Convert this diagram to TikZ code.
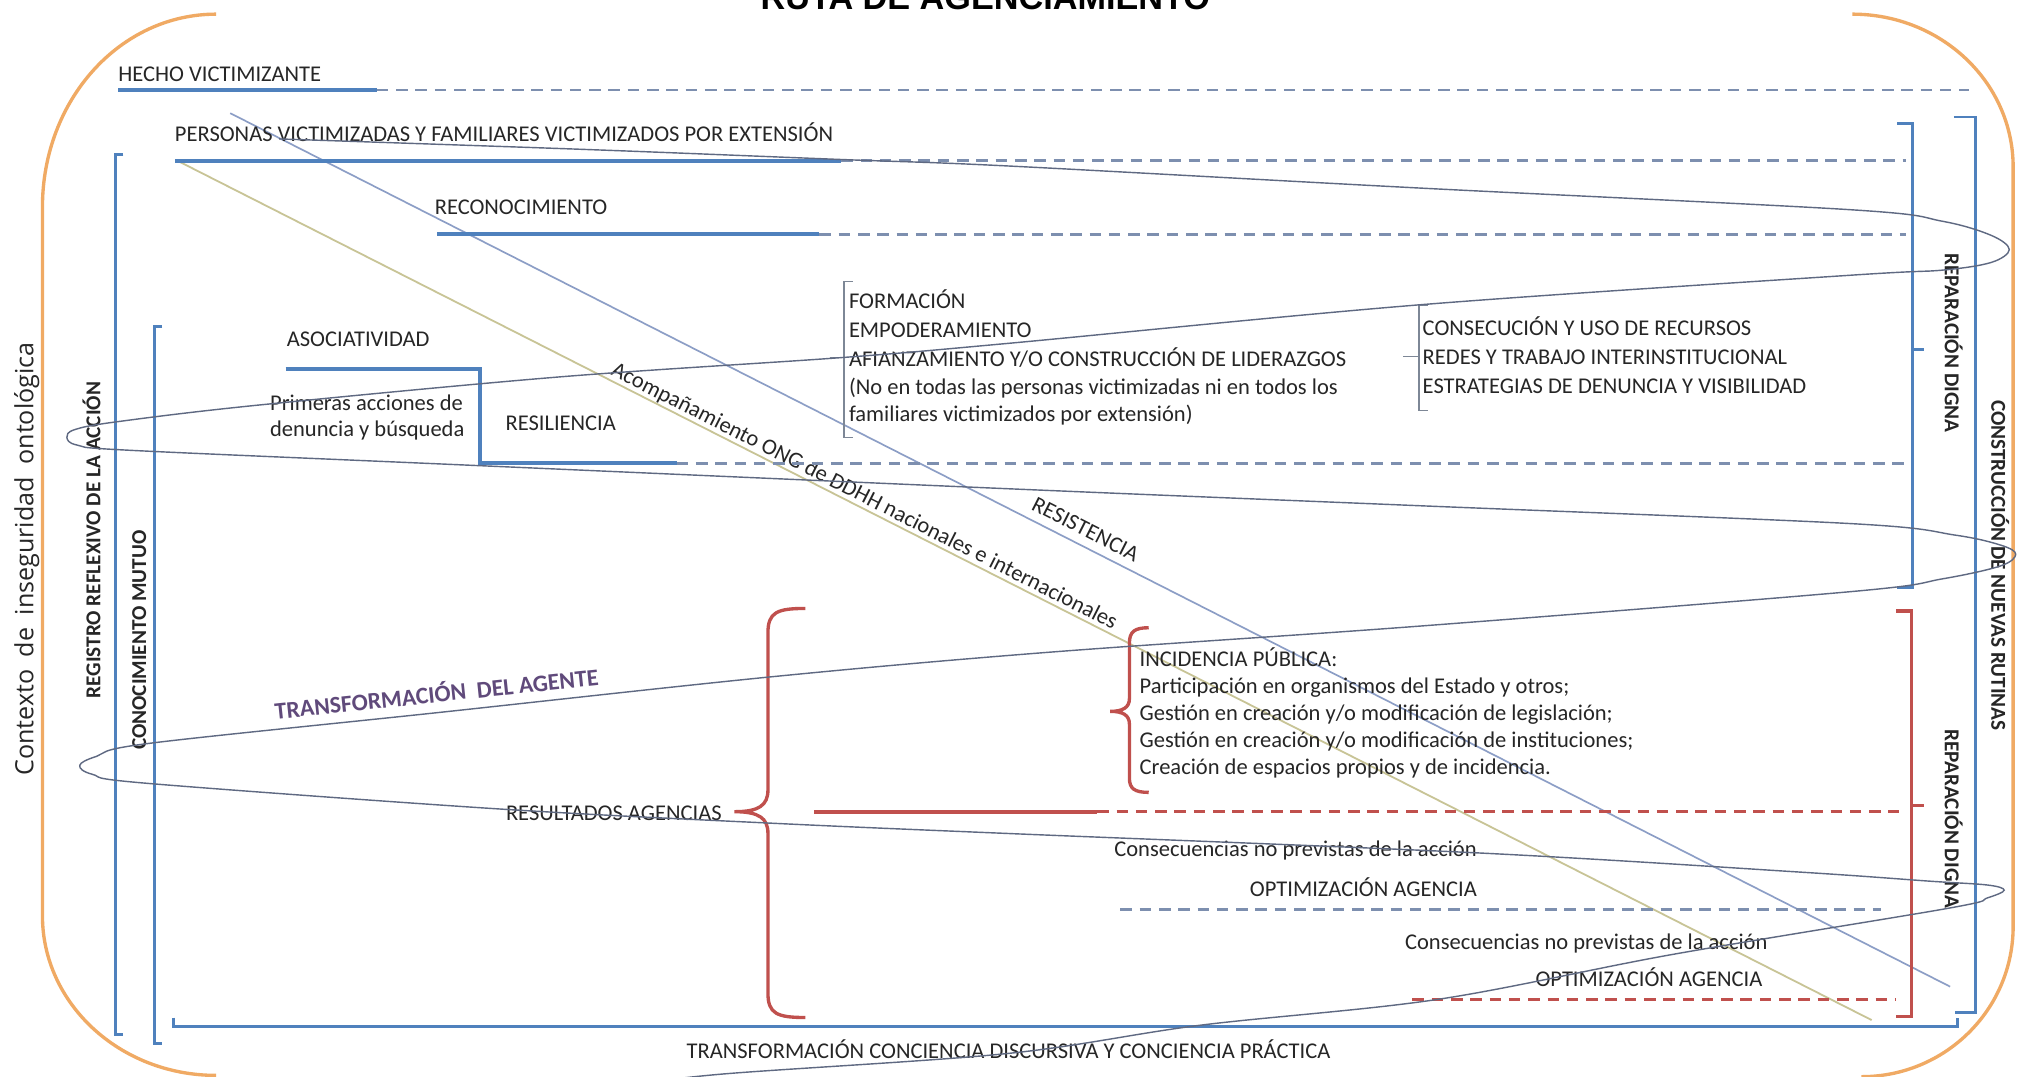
\documentclass[tikz,border=0pt]{standalone}
\usepackage{fontspec}
\setmainfont{Carlito}
\newfontfamily\titlefont{Liberation Sans}
\newfontfamily\ctxfont{Open Sans}
\usetikzlibrary{calc}
\definecolor{bluemain}{RGB}{79,129,189}
\definecolor{dashc}{RGB}{125,143,175}
\definecolor{redc}{RGB}{192,80,77}
\definecolor{orangec}{RGB}{240,170,100}
\definecolor{spiralc}{RGB}{95,105,130}
\definecolor{diagblue}{RGB}{140,158,198}
\definecolor{diagtan}{RGB}{200,196,150}
\definecolor{purp}{RGB}{96,74,123}
\definecolor{graybr}{RGB}{125,135,150}
\definecolor{txt}{RGB}{38,38,38}
\newcommand\lblfont{\fontsize{17.5}{21}\selectfont}
\newcommand\rotfont{\fontsize{16.5}{20}\selectfont}
\begin{document}
\begin{tikzpicture}[x=1pt,y=-1pt,
  every node/.style={inner sep=0pt,outer sep=0pt,text=txt,font=\lblfont},
  bline/.style={draw=bluemain,line width=3pt},
  dline/.style={draw=dashc,line width=2.2pt,dash pattern=on 9pt off 6pt},
  rdline/.style={draw=redc,line width=2.2pt,dash pattern=on 9pt off 6pt},
  bbrk/.style={draw=bluemain,line width=2.2pt},
  rbrk/.style={draw=redc,line width=2.6pt},
  gbrk/.style={draw=graybr,line width=1pt},
  spiral/.style={draw=spiralc,line width=1.1pt},
  orng/.style={draw=orangec,line width=2.6pt},
  diagb/.style={draw=diagblue,line width=1.3pt},
  diagt/.style={draw=diagtan,line width=1.4pt},
  rotlbl/.style={font=\bfseries\rotfont}]
\useasboundingbox (0,0) rectangle (1568,837);
\fill[white] (0,0) rectangle (1568,837);
\clip (0,0) rectangle (1568,837);

% title
\node[font=\titlefont\bfseries\fontsize{26.6}{30}\selectfont, anchor=base, text=black] (title) at (766,7) {RUTA DE AGENCIAMIENTO};

% orange context bracket
\draw[orng] (168,11) .. controls (93,11) and (33,78) .. (33,161) -- (33,712) .. controls (33,780) and (93,836) .. (168,836);
\draw[orng] (1440,11) .. controls (1509,11) and (1565,64) .. (1565,130) -- (1565,720) .. controls (1565,785) and (1512,837) .. (1447,837);
\node[rotate=90, anchor=base west, font=\ctxfont\fontsize{19.5}{22}\selectfont] (ctx) at (26,603) {Contexto\hspace{0.5em}de\hspace{0.5em}inseguridad\hspace{0.5em}ontológica};

% diagonals
\coordinate (tA) at (140,126); \coordinate (tB) at (1455,793);
\draw[diagt] (tA) -- (tB) node[pos=0.4015, sloped, above=1pt] (acomp) {Acompañamiento ONG de DDHH nacionales e internacionales};
\coordinate (bA) at (179,88); \coordinate (bB) at (1516,767);
\draw[diagb] (bA) -- (bB) node[pos=0.493, sloped, above=7pt] (resis) {RESISTENCIA};

% left blue brackets
\draw[bbrk] (96,120) -- (90,120) -- (90,804) -- (96,804);
\node[rotate=90, anchor=base west, rotlbl] (reg) at (78,543) {REGISTRO REFLEXIVO DE LA ACCIÓN};
\draw[bbrk] (126,254) -- (120,254) -- (120,811) -- (126,811);
\node[rotate=90, anchor=base west, rotlbl] (conoc) at (113.5,583) {CONOCIMIENTO MUTUO};
% bottom bracket
\draw[bbrk] (135,791) -- (135,798) -- (1522,798) -- (1522,791);
\node[anchor=base] (tcc) at (784,823) {TRANSFORMACIÓN CONCIENCIA DISCURSIVA Y CONCIENCIA PRÁCTICA};

% right brackets
\draw[bbrk] (1475,96) -- (1487,96) -- (1487,457) -- (1475,457);
\draw[bbrk] (1487,272) -- (1496,272);
\node[rotate=-90, anchor=base west, rotlbl] (rep1) at (1512,197) {REPARACIÓN DIGNA};
\draw[bbrk] (1519,91) -- (1536,91) -- (1536,787) -- (1520,787);
\node[rotate=-90, anchor=base west, rotlbl] (constr) at (1548,311) {CONSTRUCCIÓN DE NUEVAS RUTINAS};
\draw[rbrk] (1474,475) -- (1486,475) -- (1486,790) -- (1474,790);
\draw[rbrk] (1486,626) -- (1496,626);
\node[rotate=-90, anchor=base west, rotlbl] (rep2) at (1512,567) {REPARACIÓN DIGNA};

% rows
\node[anchor=base west] (hecho) at (92,63) {HECHO VICTIMIZANTE};
\draw[bline] (92,70) -- (293,70);
\draw[dline] (293,70) -- (1531,70);
\node[anchor=base west] (personas) at (136,110) {PERSONAS VICTIMIZADAS Y FAMILIARES VICTIMIZADOS POR EXTENSIÓN};
\draw[bline] (136,125) -- (654,125);
\draw[dline] (654,125) -- (1482,125);
\node[anchor=base west] (recon) at (338,167) {RECONOCIMIENTO};
\draw[bline] (340,182) -- (637,182);
\draw[dline] (637,182) -- (1482,182);
\node[anchor=base west] (asoc) at (223,269) {ASOCIATIVIDAD};
\draw[bline] (222,287) -- (373,287) -- (373,360) -- (526,360);
\draw[dline] (526,360) -- (1482,360);
\node[anchor=base west] (prim1) at (210,319) {Primeras acciones de};
\node[anchor=base west] (prim2) at (210,339) {denuncia y búsqueda};
\node[anchor=base west] (resil) at (393,335) {RESILIENCIA};

% formacion block
\draw[gbrk] (663,219) -- (656,219) -- (656,340) -- (663,340);
\draw[gbrk] (645,278) -- (656,278);
\node[anchor=base west] (f1) at (660,240) {FORMACIÓN};
\node[anchor=base west] (f2) at (660,262) {EMPODERAMIENTO};
\node[anchor=base west] (f3) at (660,285) {AFIANZAMIENTO Y/O CONSTRUCCIÓN DE LIDERAZGOS};
\node[anchor=base west] (f4) at (660,307) {(No en todas las personas victimizadas ni en todos los};
\node[anchor=base west] (f5) at (660,328) {familiares victimizados por extensión)};
\draw[gbrk] (1110,237) -- (1103,237) -- (1103,319) -- (1110,319);
\draw[gbrk] (1091,277) -- (1103,277);
\node[anchor=base west] (c1) at (1106,261) {CONSECUCIÓN Y USO DE RECURSOS};
\node[anchor=base west] (c2) at (1106,283) {REDES Y TRABAJO INTERINSTITUCIONAL};
\node[anchor=base west] (c3) at (1106,306) {ESTRATEGIAS DE DENUNCIA Y VISIBILIDAD};

% red part
\draw[rbrk] (626,473) .. controls (604,473) and (597,476) .. (597,492) -- (597,614) .. controls (597,626) and (590,631) .. (571,631) .. controls (590,631) and (597,636) .. (597,648) -- (597,772) .. controls (597,788) and (604,791) .. (626,791);
\node[anchor=base east] (resag) at (561,638) {RESULTADOS AGENCIAS};
\draw[draw=redc,line width=3.2pt] (633,631) -- (853,631);
\draw[rdline] (853,631) -- (1476,631);
\draw[rbrk] (893,488) .. controls (882,488) and (878,491) .. (878,500) -- (878,543) .. controls (878,550) and (873,553) .. (863,553) .. controls (873,553) and (878,556) .. (878,563) -- (878,605) .. controls (878,613) and (882,616) .. (893,616);
\node[anchor=base west] (i1) at (886,518) {INCIDENCIA PÚBLICA:};
\node[anchor=base west] (i2) at (886,539) {Participación en organismos del Estado y otros;};
\node[anchor=base west] (i3) at (886,560) {Gestión en creación y/o modificación de legislación;};
\node[anchor=base west] (i4) at (886,581) {Gestión en creación y/o modificación de instituciones;};
\node[anchor=base west] (i5) at (886,602) {Creación de espacios propios y de incidencia.};

\node[anchor=base east] (cons1) at (1148,666) {Consecuencias no previstas de la acción};
\node[anchor=base east] (opt1) at (1148,697) {OPTIMIZACIÓN AGENCIA};
\draw[dline] (871,707) -- (1462,707);
\node[anchor=base east] (cons2) at (1374,738) {Consecuencias no previstas de la acción};
\node[anchor=base east] (opt2) at (1370,767) {OPTIMIZACIÓN AGENCIA};
\draw[rdline] (1098,777) -- (1474,777);

% spiral
\draw[spiral] plot[smooth, tension=0.55] coordinates {
 (217,108) (450,116) (654,124) (783,129) (1100,146) (1438,163) (1510,172) (1548,183) (1562,194) (1548,204) (1510,210) (1438,214)
 (1103,237) (783,267) (654,278) (435,293) (200,315) (90,328) (58,334) (52,340) (60,346) (100,350)
 (350,361) (785,380) (1100,393) (1438,407) (1520,416) (1556,424) (1567,431) (1555,440) (1510,450) (1438,460)
 (1100,487) (816,507) (601,526) (340,554) (115,578) (75,588) (62,595) (72,602) (115,609)
 (390,629) (601,640) (785,648) (1148,663) (1400,678) (1500,685) (1545,688) (1558,692) (1545,698) (1515,706)
 (1300,742) (1117,777) (933,797) (783,819) (561,835) (480,845)};
\node[rotate=6, anchor=base, text=purp, font=\bfseries\fontsize{18.5}{22}\selectfont] (tagente) at (340,546) {TRANSFORMACIÓN\ \ DEL AGENTE};
\end{tikzpicture}
\end{document}
